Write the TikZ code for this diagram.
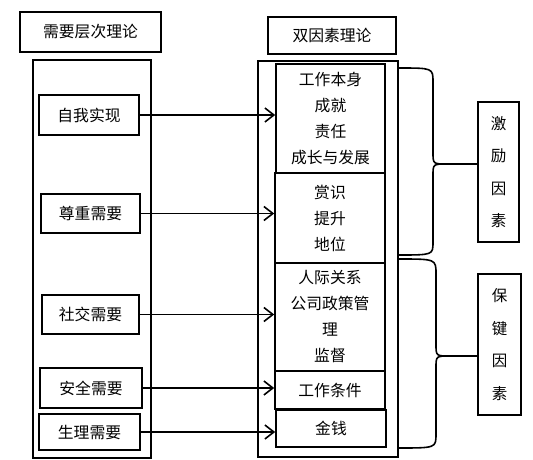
\documentclass[tikz,border=0pt]{standalone}
\usepackage{fontspec}
\setmainfont{Noto Sans CJK SC}
\usetikzlibrary{arrows.meta}
\tikzset{
  kuang/.style={draw, inner sep=0pt, align=center},
  shu/.style={kuang, font=\fontsize{15.5}{32.5}\selectfont},
}
\begin{document}
\begin{tikzpicture}[x=1pt,y=-1pt,line width=1.6pt,>={Straight Barb[length=9pt,width=14pt]}]
\fontsize{15.8}{26}\selectfont
\useasboundingbox (0,0) rectangle (533,460);
% two outer columns
\draw (33,60) rectangle (151,458);
\draw (258,61) rectangle (398,457);
\node[kuang, minimum width=141pt, minimum height=40pt] (xuqiu) at (90.5,32) {需要层次理论};
\node[kuang, minimum width=128pt, minimum height=37pt] (shuangyin) at (332,35.5) {双因素理论};
% needs
\node[kuang, minimum width=100pt, minimum height=40pt] (ziwo) at (89,115) {自我实现};
\node[kuang, minimum width=99pt, minimum height=39pt] (zunzhong) at (90.5,213.5) {尊重需要};
\node[kuang, minimum width=97pt, minimum height=39pt] (shejiao) at (90.5,314.5) {社交需要};
\node[kuang, minimum width=102pt, minimum height=40pt] (anquan) at (91,388) {安全需要};
\node[kuang, minimum width=101pt, minimum height=36pt] (shengli) at (89.5,432) {生理需要};
% factors
\node[kuang, minimum width=109pt, minimum height=109pt] (r1) at (330.5,118.5) {工作本身\\成就\\责任\\成长与发展};
\node[kuang, minimum width=110pt, minimum height=90pt] (r2) at (330,218) {赏识\\提升\\地位};
\node[kuang, minimum width=110pt, minimum height=108pt] (r3) at (330,317) {人际关系\\公司政策管\\理\\监督};
\node[kuang, minimum width=110pt, minimum height=38pt] (r4) at (330,390) {工作条件};
\node[kuang, minimum width=110pt, minimum height=37pt] (r5) at (331,428.5) {金钱};
\node[shu, minimum width=41pt, minimum height=140pt] (jili) at (498.5,172) {激\\励\\因\\素};
\node[shu, minimum width=43pt, minimum height=141pt] (baojian) at (499.5,344.5) {保\\键\\因\\素};
\foreach \a/\b in {ziwo/r1, zunzhong/r2, shejiao/r3, anquan/r4, shengli/r5}
  \draw[->] (\a.east) -- (\a.east -| \b.west);
% braces
\draw (398,68) .. controls (433,68) .. (433,82) -- (433,152)
  .. controls (433,164) .. (447,164) -- (jili.west |- 0,164);
\draw (447,164) .. controls (433,164) .. (433,176) -- (433,242)
  .. controls (433,255) .. (398,255);
\draw (398,259) .. controls (436,259) .. (436,274) -- (436,344)
  .. controls (436,356) .. (450,356) -- (baojian.west |- 0,356);
\draw (450,356) .. controls (436,356) .. (436,368) -- (436,434)
  .. controls (436,448) .. (398,448);
\end{tikzpicture}
\end{document}
